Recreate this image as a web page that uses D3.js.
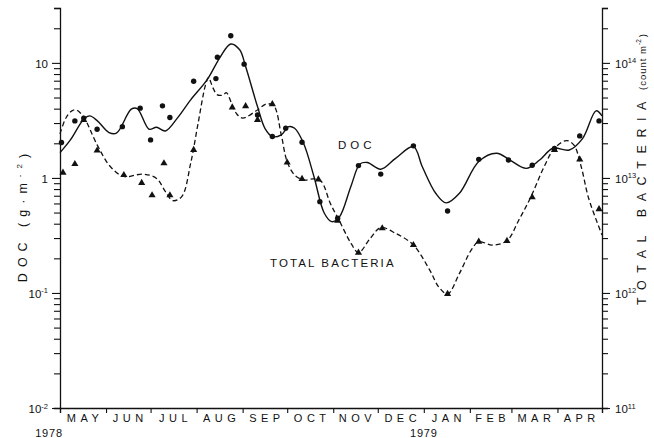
<!DOCTYPE html>
<html>
<head>
<meta charset="utf-8">
<script src="https://cdn.jsdelivr.net/npm/d3@7"></script>
<style>
  html, body { margin: 0; padding: 0; background: #fff; }
  svg { display: block; }
  text { font-family: "Liberation Sans", Arial, sans-serif; fill: #111; }
</style>
</head>
<body>
<svg id="chart" width="654" height="438"></svg>
<script>
// Dissolved organic carbon (g m^-2) sampled through the year
const docDates = ["1978-05-02","1978-05-11","1978-05-17","1978-05-26","1978-06-12","1978-06-24",
  "1978-07-01","1978-07-09","1978-07-14","1978-07-30","1978-08-14","1978-08-15","1978-08-24",
  "1978-09-02","1978-09-11","1978-09-21","1978-09-30","1978-10-11","1978-10-23","1978-11-04",
  "1978-11-18","1978-12-03","1978-12-25","1979-01-17","1979-02-07","1979-02-27","1979-03-15",
  "1979-03-30","1979-04-16","1979-04-29"];
const docValues = [2.03,3.13,3.31,2.65,2.79,4.04,2.14,4.23,3.35,6.93,7.3,11.2,17.2,
  9.75,3.53,2.29,2.70,2.04,0.622,0.446,1.28,1.08,1.90,0.516,1.45,1.43,1.29,1.80,2.32,3.13];

// Total bacteria (count m^-2)
const bactDates = ["1978-05-03","1978-05-11","1978-05-17","1978-05-26","1978-06-13","1978-06-25",
  "1978-07-02","1978-07-10","1978-07-14","1978-07-30","1978-08-25","1978-09-03","1978-09-11",
  "1978-09-21","1978-10-01","1978-10-11","1978-10-22","1978-11-04","1978-11-18","1978-12-04",
  "1978-12-25","1979-01-17","1979-02-07","1979-02-26","1979-03-15","1979-03-30","1979-04-16",
  "1979-04-29"];
const bactValues = [1.11e13,1.32e13,3.19e13,1.73e13,1.06e13,9.05e12,7.07e12,1.34e13,7.07e12,
  1.75e13,4.1e13,4.21e13,3.19e13,4.38e13,1.36e13,9.8e12,9.7e12,4.25e12,2.24e12,3.65e12,
  2.61e12,9.8e11,2.79e12,2.83e12,6.79e12,1.75e13,1.45e13,5.35e12];

// Hand-fitted smooth curve for DOC
const docCurveDates = ["1978-05-01","1978-05-08","1978-05-17","1978-05-21","1978-05-26","1978-06-03",
  "1978-06-08","1978-06-18","1978-06-22","1978-06-30","1978-07-05","1978-07-11","1978-07-19",
  "1978-07-28","1978-08-08","1978-08-17","1978-08-24","1978-08-30","1978-09-03","1978-09-11",
  "1978-09-16","1978-09-21","1978-09-27","1978-10-02","1978-10-06","1978-10-12","1978-10-19",
  "1978-10-26","1978-10-31","1978-11-05","1978-11-13","1978-11-19","1978-11-24","1978-12-03",
  "1978-12-13","1978-12-25","1978-12-31","1979-01-09","1979-01-16","1979-01-25","1979-02-07",
  "1979-02-19","1979-02-28","1979-03-11","1979-03-20","1979-03-29","1979-04-09","1979-04-18",
  "1979-04-27","1979-05-01"];
const docCurveValues = [1.66,2.14,3.24,3.46,3.15,2.48,2.45,3.96,4.01,2.65,2.76,2.56,3.31,
  4.77,7.11,11.3,14.6,13.0,9.29,4.17,2.70,2.29,2.37,2.79,2.70,2.00,1.03,0.493,0.417,0.454,
  0.852,1.32,1.36,1.19,1.48,1.87,1.25,0.736,0.607,0.736,1.39,1.64,1.43,1.21,1.43,1.81,1.75,
  2.21,3.83,3.46];

// Hand-fitted smooth curve for total bacteria
const bactCurveDates = ["1978-05-01","1978-05-05","1978-05-09","1978-05-12","1978-05-17","1978-05-26",
  "1978-06-04","1978-06-13","1978-06-26","1978-07-05","1978-07-11","1978-07-16","1978-07-22",
  "1978-07-28","1978-08-02","1978-08-07","1978-08-09","1978-08-12","1978-08-15","1978-08-19",
  "1978-08-21","1978-08-25","1978-08-28","1978-09-01","1978-09-11","1978-09-17","1978-09-22",
  "1978-09-27","1978-10-01","1978-10-06","1978-10-12","1978-10-19","1978-10-24","1978-10-30",
  "1978-11-05","1978-11-13","1978-11-18","1978-11-26","1978-12-03","1978-12-13","1978-12-25",
  "1979-01-05","1979-01-11","1979-01-17","1979-01-25","1979-02-02","1979-02-07","1979-02-16",
  "1979-02-26","1979-03-06","1979-03-14","1979-03-23","1979-03-30","1979-04-07","1979-04-12",
  "1979-04-17","1979-04-22","1979-05-01"];
const bactCurveValues = [2.41e13,3.32e13,3.83e13,3.90e13,3.37e13,1.94e13,1.25e13,1.03e13,1.08e13,
  9.9e12,7.6e12,6.35e12,6.88e12,1.34e13,2.99e13,6.44e13,7.45e13,6.06e13,5.27e13,5.27e13,
  5.52e13,4.31e13,3.60e13,3.31e13,3.90e13,4.40e13,4.23e13,2.37e13,1.38e13,1.06e13,9.6e12,
  9.8e12,9.3e12,6.03e12,4.27e12,2.70e12,2.24e12,2.99e12,3.70e12,3.30e12,2.61e12,1.58e12,
  1.13e12,9.8e11,1.48e12,2.37e12,2.79e12,2.61e12,2.85e12,4.31e12,6.79e12,1.25e13,1.81e13,
  2.11e13,1.94e13,1.25e13,6.66e12,3.19e12];

// Axis labels
const monthLabels = ["MAY","JUN","JUL","AUG","SEP","OCT","NOV","DEC","JAN","FEB","MAR","APR"];
const leftTickValues = [0.01, 0.1, 1, 10];
const leftTickBases = ["10", "10", "1", "10"];
const leftTickExps = ["-2", "-1", "", ""];
const rightTickValues = [1e11, 1e12, 1e13, 1e14];
const rightTickExps = ["11", "12", "13", "14"];

const parse = d3.timeParse("%Y-%m-%d");
const svg = d3.select("#chart");

const x = d3.scaleTime()
  .domain([parse("1978-05-01"), parse("1979-05-01")])
  .range([60, 602]);
const y = d3.scaleLog().domain([0.01, 30]).range([408, 8]);
const yR = d3.scaleLog().domain([1e11, 3e14]).range([408, 8]);

function minorTicks(lo, hi) {
  const out = [];
  for (let e = lo; e <= hi; e++) {
    for (let m = 2; m <= 9; m++) out.push(m * Math.pow(10, e));
  }
  return out;
}

// ---- left axis (DOC)
const leftMinor = minorTicks(-2, 0).concat([20, 30]);
svg.append("g").attr("transform", "translate(60,0)")
  .call(d3.axisLeft(y).tickValues(leftMinor).tickSize(6).tickFormat(""))
  .call(g => g.select(".domain").attr("stroke", "#111").attr("stroke-width", 1.3))
  .call(g => g.selectAll(".tick line").attr("stroke", "#111").attr("stroke-width", 1.1));
const leftMajor = svg.append("g").attr("transform", "translate(60,0)")
  .call(d3.axisLeft(y).tickValues(leftTickValues).tickSize(8).tickFormat(""))
  .call(g => g.select(".domain").remove())
  .call(g => g.selectAll(".tick line").attr("stroke", "#111").attr("stroke-width", 1.1));
leftMajor.selectAll(".tick").each(function(d, i) {
  const t = d3.select(this).append("text")
    .attr("x", -12).attr("dy", "0.36em")
    .attr("text-anchor", "end")
    .attr("font-size", 11.5);
  t.append("tspan").text(leftTickBases[i]);
  if (leftTickExps[i]) {
    t.append("tspan").attr("font-size", 7.5).attr("dy", "-0.55em").text(leftTickExps[i]);
  }
});

// ---- right axis (bacteria)
const rightMinor = minorTicks(11, 13).concat([2e14, 3e14]);
svg.append("g").attr("transform", "translate(602,0)")
  .call(d3.axisRight(yR).tickValues(rightMinor).tickSize(6).tickFormat(""))
  .call(g => g.select(".domain").attr("stroke", "#111").attr("stroke-width", 1.3))
  .call(g => g.selectAll(".tick line").attr("stroke", "#111").attr("stroke-width", 1.1));
const rightMajor = svg.append("g").attr("transform", "translate(602,0)")
  .call(d3.axisRight(yR).tickValues(rightTickValues).tickSize(8).tickFormat(""))
  .call(g => g.select(".domain").remove())
  .call(g => g.selectAll(".tick line").attr("stroke", "#111").attr("stroke-width", 1.1));
rightMajor.selectAll(".tick").each(function(d, i) {
  const t = d3.select(this).append("text")
    .attr("x", 13).attr("dy", "0.36em")
    .attr("text-anchor", "start")
    .attr("font-size", 11.5);
  t.append("tspan").text("10");
  t.append("tspan").attr("font-size", 7.5).attr("dy", "-0.55em").text(rightTickExps[i]);
});

// ---- bottom axis (months)
const months = d3.timeMonth.range(parse("1978-05-01"), parse("1979-05-02"));
svg.append("g").attr("transform", "translate(0,408)")
  .call(d3.axisBottom(x).tickValues(months).tickSize(5).tickFormat(""))
  .call(g => g.select(".domain").attr("stroke", "#111").attr("stroke-width", 1.3))
  .call(g => g.selectAll(".tick line").attr("stroke", "#111").attr("stroke-width", 1.1));
svg.append("g").selectAll("text")
  .data(monthLabels)
  .join("text")
  .attr("x", (d, i) => (x(months[i]) + x(months[i + 1])) / 2 + 2)
  .attr("y", 422)
  .attr("text-anchor", "middle")
  .attr("font-size", 11)
  .attr("letter-spacing", 4.5)
  .text(d => d);
svg.append("text").attr("x", 49).attr("y", 437).attr("text-anchor", "middle")
  .attr("font-size", 11).attr("letter-spacing", 0.8).text("1978");
svg.append("text").attr("x", x(parse("1979-01-01"))).attr("y", 437).attr("text-anchor", "middle")
  .attr("font-size", 11).attr("letter-spacing", 0.8).text("1979");

// ---- axis titles
const lt = svg.append("text")
  .attr("transform", "translate(27,215) rotate(-90)")
  .attr("text-anchor", "middle")
  .attr("font-size", 12.5)
  .attr("letter-spacing", 6);
lt.append("tspan").text("DOC  (g·m");
lt.append("tspan").attr("font-size", 8).attr("dy", "-0.6em").text("-2");
lt.append("tspan").attr("dy", "0.45em").text(")");

const rt = svg.append("text")
  .attr("transform", "translate(646,305) rotate(-90)")
  .attr("text-anchor", "start")
  .attr("font-size", 12.5)
  .attr("letter-spacing", 7.6);
rt.append("tspan").text("TOTAL BACTERIA");
rt.append("tspan").attr("font-size", 9.5).attr("letter-spacing", 1).attr("dx", 4).text("(count m");
rt.append("tspan").attr("font-size", 6.5).attr("letter-spacing", 0).attr("dy", "-0.7em").text("-2");
rt.append("tspan").attr("font-size", 9.5).attr("dy", "0.5em").attr("dx", 2).text(")");

// ---- curves
const line = d3.line()
  .x(d => x(d[0]))
  .y(d => d[2](d[1]))
  .curve(d3.curveCatmullRom.alpha(0.5));

svg.append("path")
  .attr("d", line(docCurveDates.map((d, i) => [parse(d), docCurveValues[i], y])))
  .attr("fill", "none").attr("stroke", "#111").attr("stroke-width", 1.4);

svg.append("path")
  .attr("d", line(bactCurveDates.map((d, i) => [parse(d), bactCurveValues[i], yR])))
  .attr("fill", "none").attr("stroke", "#111").attr("stroke-width", 1.3)
  .attr("stroke-dasharray", "5,3");

// ---- markers
svg.append("g").selectAll("circle")
  .data(docDates.map((d, i) => [parse(d), docValues[i]]))
  .join("circle")
  .attr("cx", d => x(d[0])).attr("cy", d => y(d[1]))
  .attr("r", 2.7).attr("fill", "#111");

const tri = d3.symbol().type(d3.symbolTriangle).size(22);
svg.append("g").selectAll("path")
  .data(bactDates.map((d, i) => [parse(d), bactValues[i]]))
  .join("path")
  .attr("transform", d => `translate(${x(d[0])},${yR(d[1])})`)
  .attr("d", tri).attr("fill", "#111");

// ---- series labels
svg.append("text").attr("x", 338).attr("y", 149)
  .attr("font-size", 11.5).attr("letter-spacing", 4).text("DOC");
svg.append("text").attr("x", 270).attr("y", 267)
  .attr("font-size", 11.5).attr("letter-spacing", 2.1).text("TOTAL BACTERIA");
</script>
</body>
</html>
